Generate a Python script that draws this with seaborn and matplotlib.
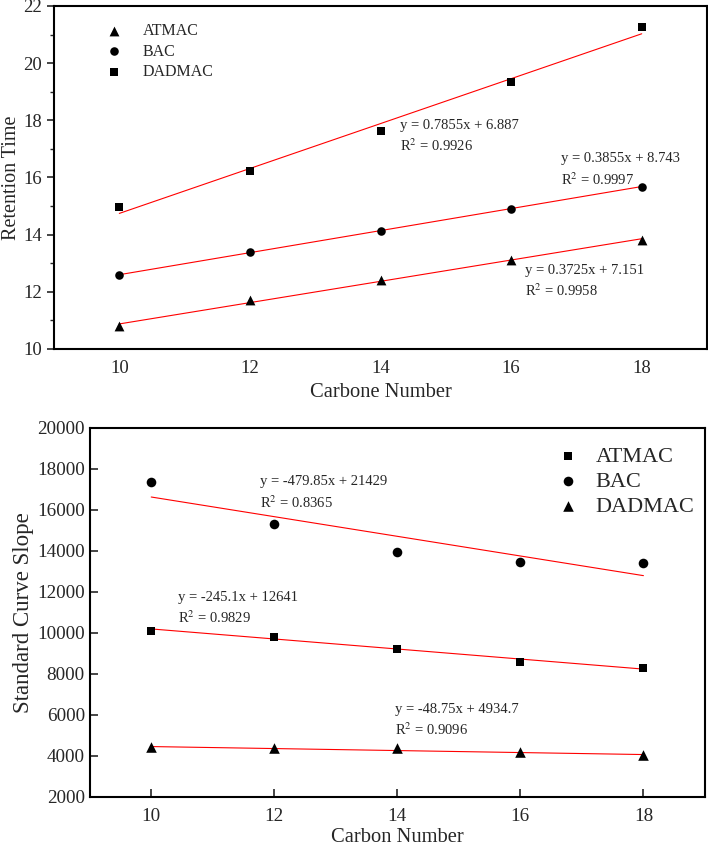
import numpy as np
import pandas as pd
import seaborn as sns
import matplotlib.pyplot as plt
from matplotlib.ticker import MultipleLocator

# datos
carbon = [10, 12, 14, 16, 18]
compounds = ['ATMAC', 'BAC', 'DADMAC']

# panel superior: tiempo de retencion
rt_atmac = [10.80, 11.70, 12.42, 13.12, 13.82]
rt_bac = [12.58, 13.38, 14.13, 14.88, 15.68]
rt_dadmac = [14.95, 16.22, 17.62, 19.35, 21.25]
rt_slope = [0.3725, 0.3855, 0.7855]
rt_icept = [7.151, 8.743, 6.887]
rt_r2 = [0.9958, 0.9997, 0.9926]

# panel inferior: pendiente de la curva estandar
sl_atmac = [10100, 9820, 9230, 8580, 8270]
sl_bac = [17350, 15310, 13940, 13460, 13420]
sl_dadmac = [4450, 4380, 4380, 4200, 4050]
sl_slope = [-245.1, -479.85, -48.75]
sl_icept = [12641, 21429, 4934.7]
sl_r2 = [0.9829, 0.8365, 0.9096]

sns.set_style("white")
plt.rcParams['font.family'] = ['Liberation Serif', 'DejaVu Serif']
plt.rcParams['mathtext.fontset'] = 'stix'


def long_df(series):
    rows = []
    for name, vals in zip(compounds, series):
        for c, v in zip(carbon, vals):
            rows.append({'carbon': c, 'value': v, 'compound': name})
    return pd.DataFrame(rows)


def fit_df(slopes, icepts):
    rows = []
    for name, m, b in zip(compounds, slopes, icepts):
        for c in (carbon[0], carbon[-1]):
            rows.append({'carbon': c, 'value': m * c + b, 'compound': name})
    return pd.DataFrame(rows)


def eq_text(m, b, r2):
    sign = '+' if b >= 0 else '-'
    return f"y = {m:g}x {sign} {abs(b):g}\nR$^2$ = {r2:.4f}"


fig = plt.figure(figsize=(7.08, 8.47), dpi=100)
ax1 = fig.add_axes([0.0763, 0.588, 0.9223, 0.405])
ax2 = fig.add_axes([0.1267, 0.0594, 0.869, 0.4353])

# ---------- panel superior ----------
df_rt = long_df([rt_atmac, rt_bac, rt_dadmac])
sns.lineplot(data=fit_df(rt_slope, rt_icept), x='carbon', y='value',
             units='compound', estimator=None, color='red', lw=0.8,
             legend=False, ax=ax1)
sizes_top = {'ATMAC': 50, 'BAC': 38, 'DADMAC': 30}
for name, mk in zip(compounds, ['^', 'o', 's']):
    sns.scatterplot(data=df_rt[df_rt.compound == name], x='carbon', y='value',
                    marker=mk, color='black', s=sizes_top[name],
                    edgecolor='black', linewidth=0, label=name, ax=ax1, zorder=3)

ax1.set_xlim(9, 19)
ax1.set_ylim(10, 22)
ax1.xaxis.set_major_locator(MultipleLocator(2))
ax1.yaxis.set_major_locator(MultipleLocator(2))
ax1.yaxis.set_minor_locator(MultipleLocator(1))
ax1.tick_params(axis='x', direction='in', length=5, width=1.2, labelsize=13.5, pad=8)
ax1.tick_params(axis='y', which='major', direction='out', length=5, width=1.2,
                labelsize=13.5, left=True)
ax1.tick_params(axis='y', which='minor', direction='out', length=3, width=1.0, left=True)
ax1.set_xlabel('Carbone Number', fontsize=14.8)
ax1.set_ylabel('Retention Time', fontsize=14.5, labelpad=2)
ax1.legend(loc='upper left', bbox_to_anchor=(0.080, 0.951), frameon=False,
           fontsize=11.5, handlelength=1.0, handletextpad=1.3, labelspacing=0.3,
           borderaxespad=0, borderpad=0)

pos_top = [(16.22, 12.36), (16.77, 16.26), (14.30, 17.42)]
for (tx, ty), m, b, r2 in zip(pos_top, rt_slope, rt_icept, rt_r2):
    ax1.text(tx, ty, eq_text(m, b, r2), fontsize=10.5, va='center', ha='left',
             linespacing=1.4)

# ---------- panel inferior ----------
df_sl = long_df([sl_atmac, sl_bac, sl_dadmac])
sns.lineplot(data=fit_df(sl_slope, sl_icept), x='carbon', y='value',
             units='compound', estimator=None, color='red', lw=0.8,
             legend=False, ax=ax2)
sizes_bot = {'ATMAC': 40, 'BAC': 48, 'DADMAC': 58}
for name, mk in zip(compounds, ['s', 'o', '^']):
    sns.scatterplot(data=df_sl[df_sl.compound == name], x='carbon', y='value',
                    marker=mk, color='black', s=sizes_bot[name],
                    edgecolor='black', linewidth=0, label=name, ax=ax2, zorder=3)

ax2.set_xlim(9, 19)
ax2.set_ylim(2000, 20000)
ax2.xaxis.set_major_locator(MultipleLocator(2))
ax2.yaxis.set_major_locator(MultipleLocator(2000))
ax2.tick_params(axis='both', direction='in', length=6, width=1.2, labelsize=13.8,
                bottom=True, left=True)
ax2.tick_params(axis='x', pad=8)
ax2.set_xlabel('Carbon Number', fontsize=14.8, labelpad=2)
ax2.set_ylabel('Standard Curve Slope', fontsize=16.5, labelpad=2)
ax2.legend(loc='upper left', bbox_to_anchor=(0.761, 0.951), frameon=False,
           fontsize=16, handlelength=0.9, handletextpad=0.8, labelspacing=0.2,
           borderaxespad=0, borderpad=0)

pos_bot = [(10.43, 11178), (11.76, 16827), (13.97, 5710)]
for (tx, ty), m, b, r2 in zip(pos_bot, sl_slope, sl_icept, sl_r2):
    ax2.text(tx, ty, eq_text(m, b, r2), fontsize=10.5, va='center', ha='left',
             linespacing=1.4)

for ax in (ax1, ax2):
    for sp in ax.spines.values():
        sp.set_visible(True)
        sp.set_linewidth(1.5)
        sp.set_color('black')

plt.savefig('out.png', dpi=100)
